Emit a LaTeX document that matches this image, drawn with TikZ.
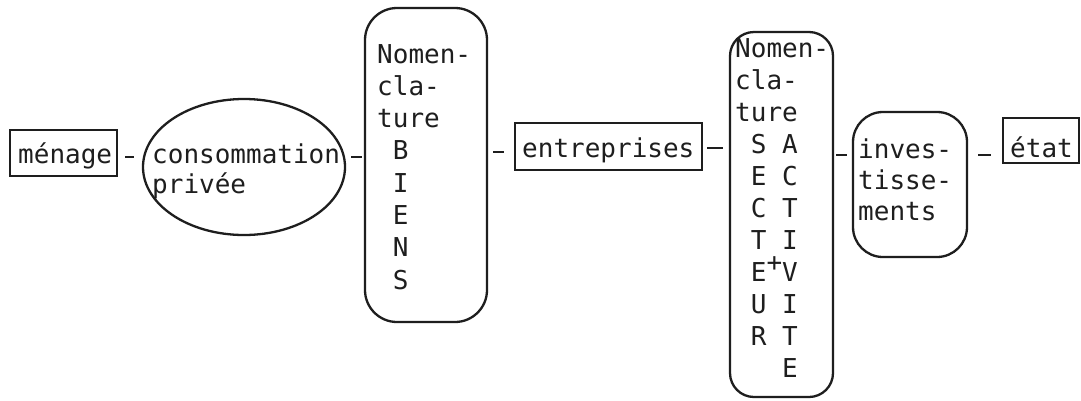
\documentclass[tikz,border=0pt]{standalone}
\usepackage{fontspec}
\usetikzlibrary{shapes.geometric}
\newfontfamily\tw{DejaVu Sans Mono}
\definecolor{ink}{HTML}{1E1E1E}
\newcommand\Lines[2]{\vtop{\baselineskip=#1\relax\lineskiplimit=-100pt\lineskip=0pt #2}}
\newcommand\Ln[1]{\hbox{#1}}
\begin{document}
\begin{tikzpicture}[x=1pt,y=-1pt,
  txt/.style={anchor=base west, inner sep=0pt, font=\tw\fontsize{26}{32}\selectfont, text=ink},
  box/.style={draw=ink, line width=2.3pt, inner sep=0pt},
  link/.style={draw=ink, line width=2.4pt}]
\useasboundingbox[fill=white] (0,0) rectangle (1081,400);

% shapes
\node[box, rectangle, minimum width=107pt, minimum height=46pt] (menage) at (63.5,153) {};
\node[box, ellipse, minimum width=202pt, minimum height=136pt] (cons) at (244,167) {};
\node[box, rectangle, rounded corners=32pt, minimum width=122pt, minimum height=314pt] (biens) at (426,165) {};
\node[box, rectangle, minimum width=187pt, minimum height=47pt] (ent) at (608.5,146.5) {};
\node[box, rectangle, rounded corners=24pt, minimum width=103pt, minimum height=365pt] (sect) at (781.5,214.5) {};
\node[box, rectangle, rounded corners=30pt, minimum width=114pt, minimum height=145pt] (inv) at (910,184.5) {};
\node[box, rectangle, minimum width=76pt, minimum height=45pt] (etat) at (1041,140.5) {};

% texts
\node[txt] (menageT) at (18,163) {ménage};
\node[txt] (consT) at (152,163) {\Lines{30pt}{\Ln{consommation}\Ln{privée}}};
\node[txt] (biensT) at (377,63) {\Lines{32.3pt}{\Ln{Nomen-}\Ln{cla-}\Ln{ture}\Ln{\ B}\Ln{\ I}\Ln{\ E}\Ln{\ N}\Ln{\ S}}};
\node[txt] (entT) at (522,157) {entreprises};
\node[txt] (sectT) at (735,57) {\Lines{32pt}{\Ln{Nomen-}\Ln{cla-}\Ln{ture}\Ln{\ S\ A}\Ln{\ E\ C}\Ln{\ C\ T}\Ln{\ T\ I}\Ln{\ E\raisebox{10pt}{+}V}\Ln{\ U\ I}\Ln{\ R\ T}\Ln{\ \ \ E}}};
\node[txt] (invT) at (858,158) {\Lines{31pt}{\Ln{inves-}\Ln{tisse-}\Ln{ments}}};
\node[txt] (etatT) at (1010,157) {état};

% connectors (short dashes)
\draw[link, shorten <=7pt, shorten >=8pt] ([yshift=-4pt]menage.east) -- ([yshift=-4pt]menage.east -| cons.west);
\draw[link, shorten <=5pt, shorten >=2pt] ([yshift=10pt]cons.east) -- ([yshift=10pt]cons.east -| biens.west);
\draw[link, shorten <=5pt, shorten >=10pt] ([yshift=13pt]biens.east) -- ([yshift=13pt]biens.east -| ent.west);
\draw[link, shorten <=4pt, shorten >=6pt] ([yshift=-1.5pt]ent.east) -- ([yshift=-1.5pt]ent.east -| sect.west);
\draw[link, shorten <=2pt, shorten >=5pt] ([yshift=59.5pt]sect.east) -- ([yshift=59.5pt]sect.east -| inv.west);
\draw[link, shorten <=10pt, shorten >=11pt] ([yshift=29.5pt]inv.east) -- ([yshift=29.5pt]inv.east -| etat.west);
\end{tikzpicture}
\end{document}
